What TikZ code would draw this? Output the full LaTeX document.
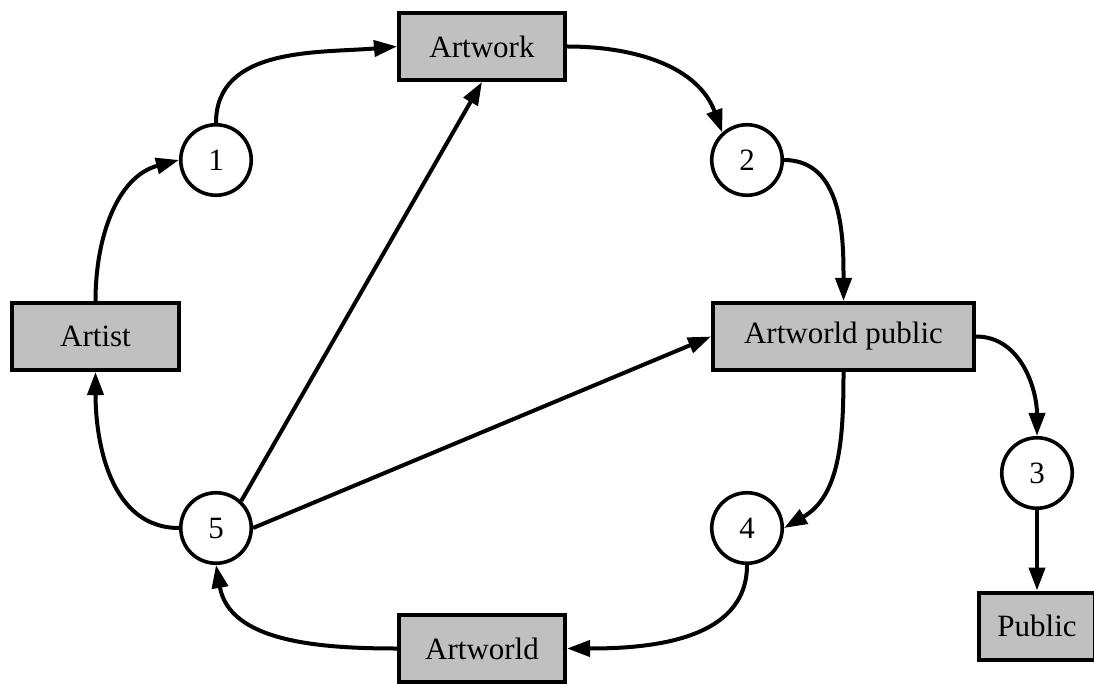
\documentclass[tikz,border=0pt]{standalone}
\usepackage{fontspec}
\setmainfont{Liberation Serif}
\usetikzlibrary{arrows.meta}
\definecolor{boxgray}{RGB}{192,192,192}
\begin{document}
\begin{tikzpicture}[x=1pt,y=1pt,
  box/.style={draw, line width=4pt, fill=boxgray, minimum height=67pt, inner sep=0pt, font=\fontsize{31}{37}\selectfont},
  num/.style={draw, circle, line width=3.6pt, fill=white, minimum size=70.5pt, inner sep=0pt, font=\fontsize{31}{37}\selectfont},
  arr/.style={line width=4pt, -{Triangle[length=23pt,width=16pt]}}]
\clip (0,0) rectangle (1094,-684);
\node[box, minimum width=166pt] (artwork) at (482,-46.5) {Artwork};
\node[box, minimum width=167pt] (artist) at (95.5,-336.5) {Artist};
\node[box, minimum width=261pt] (ap) at (843.5,-336.5) {Artworld public};
\node[box, minimum width=116pt] (public) at (1037,-626) {Public};
\node[box, minimum width=166pt] (artworld) at (482,-648.5) {Artworld};
\node[num] (c1) at (216,-160) {1};
\node[num] (c2) at (747,-160) {2};
\node[num] (c3) at (1037,-473) {3};
\node[num] (c4) at (747,-528) {4};
\node[num] (c5) at (216,-528) {5};
\draw[arr] (artist.north) to[out=90,in=195] (c1.west);
\draw[arr] (c1.north) to[out=90,in=185] (artwork.west);
\draw[arr] (artwork.east) to[out=0,in=110] (c2.132);
\draw[arr] (c2.east) to[out=0,in=90] (ap.north);
\draw[arr] (ap.east) to[out=0,in=90] (c3.north);
\draw[arr] (c3) -- (public);
\draw[arr] (ap.south) to[out=-90,in=30] (c4.east);
\draw[arr] (c4.south) to[out=-90,in=0] (artworld.east);
\draw[arr] (artworld.west) to[out=180,in=-80] (c5.south);
\draw[arr] (c5.west) to[out=180,in=-90] (artist.south);
\draw[arr] (c5.47) -- (artwork.south);
\draw[arr] (c5.east) -- (ap.west);
\end{tikzpicture}
\end{document}
